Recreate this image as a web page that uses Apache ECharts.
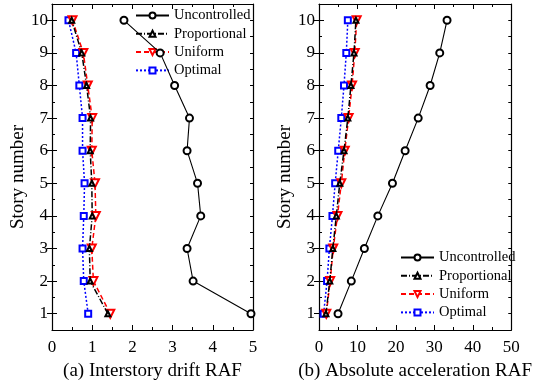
<!DOCTYPE html>
<html>
<head>
<meta charset="utf-8">
<script src="https://cdn.jsdelivr.net/npm/echarts@6/dist/echarts.min.js"></script>
<style>
  html, body { margin: 0; padding: 0; background: #fff; }
  #chart { width: 535px; height: 387px; }
</style>
</head>
<body>
<div id="chart"></div>
<script>
const stories = [1, 2, 3, 4, 5, 6, 7, 8, 9, 10]
const seriesNames = ['Uncontrolled', 'Proportional', 'Uniform', 'Optimal']

// (a) interstory drift RAF, story 1 -> 10
const driftUncontrolled = [4.95, 3.51, 3.36, 3.70, 3.62, 3.36, 3.42, 3.05, 2.69, 1.79]
const driftProportional = [1.39, 0.95, 0.93, 1.00, 0.99, 0.95, 0.96, 0.86, 0.74, 0.49]
const driftUniform = [1.45, 1.03, 0.99, 1.09, 1.07, 0.99, 1.00, 0.89, 0.78, 0.51]
const driftOptimal = [0.90, 0.79, 0.76, 0.79, 0.81, 0.76, 0.76, 0.68, 0.60, 0.41]

// (b) absolute acceleration RAF, story 1 -> 10
const accUncontrolled = [4.95, 8.4, 11.8, 15.3, 19.1, 22.4, 25.8, 28.9, 31.4, 33.3]
const accProportional = [1.8, 2.8, 3.6, 4.5, 5.4, 6.5, 7.5, 8.3, 9.1, 9.6]
const accUniform = [1.9, 2.9, 3.7, 4.8, 5.8, 6.7, 7.7, 8.6, 9.3, 9.8]
const accOptimal = [1.2, 2.1, 2.7, 3.5, 4.2, 5.0, 5.8, 6.5, 7.1, 7.5]

const font = 'Liberation Serif'
const styles = [
  { color: '#000', type: 'solid', symbol: 'emptyCircle', size: 7, rotate: 0, width: 1.1 },
  { color: '#000', type: [6, 2, 1, 2], symbol: 'emptyTriangle', size: 5, rotate: 0, width: 1.5 },
  { color: '#ff0000', type: [5, 3], symbol: 'emptyTriangle', size: 8, rotate: 180, width: 1.5 },
  { color: '#0000ff', type: [2, 2], symbol: 'emptyRect', size: 6, rotate: 0, width: 1.5 },
]

function pairs(vals) {
  return vals.map((v, i) => [v, stories[i]])
}

function makeSeries(list, xi, yi) {
  return list.map((vals, k) => ({
    name: seriesNames[k],
    type: 'line',
    xAxisIndex: xi,
    yAxisIndex: yi,
    data: pairs(vals),
    symbol: styles[k].symbol,
    symbolSize: styles[k].size,
    symbolRotate: styles[k].rotate,
    z: 10 - k,
    lineStyle: { color: styles[k].color, width: styles[k].width, type: styles[k].type },
    itemStyle: { color: styles[k].color, borderColor: styles[k].color, borderWidth: 1 },
  }))
}

function xAxes(grid, max, interval, name) {
  const base = {
    gridIndex: grid,
    type: 'value',
    min: 0,
    max: max,
    interval: interval,
    splitLine: { show: false },
    axisLine: { show: true, onZero: false, lineStyle: { color: '#000', width: 1.2 } },
    axisTick: { show: true, inside: true, length: 5, lineStyle: { color: '#000' } },
    minorTick: { show: true, splitNumber: 2, length: 3, lineStyle: { color: '#000' } },
  }
  return [
    Object.assign({}, base, {
      position: 'bottom',
      name: name,
      nameLocation: 'middle',
      nameGap: 32,
      nameTextStyle: { fontFamily: font, fontSize: 19, color: '#000' },
      axisLabel: { fontFamily: font, fontSize: 17, color: '#000', margin: 9 },
    }),
    Object.assign({}, base, { position: 'top', axisLabel: { show: false } }),
  ]
}

function yAxes(grid) {
  const base = {
    gridIndex: grid,
    type: 'value',
    min: 0.5,
    max: 10.5,
    interval: 0.5,
    splitLine: { show: false },
    axisLine: { show: true, onZero: false, lineStyle: { color: '#000', width: 1.2 } },
    axisTick: { show: true, inside: true, length: 3, lineStyle: { color: '#000' } },
    axisLabel: { show: false },
  }
  const major = {
    axisLine: { show: false },
    axisTick: { show: true, inside: true, length: 5, customValues: stories, lineStyle: { color: '#000' } },
  }
  return [
    Object.assign({}, base, {
      position: 'left',
      name: 'Story number',
      nameLocation: 'middle',
      nameGap: 23,
      // title sits a bit below the axis centre in the original
      nameTextStyle: { fontFamily: font, fontSize: 19, color: '#000', padding: [0, 20, 0, 0] },
      axisLabel: {
        fontFamily: font, fontSize: 17, color: '#000', margin: 4,
        formatter: v => (Number.isInteger(v) ? String(v) : ''),
      },
    }),
    Object.assign({}, base, { position: 'right' }),
    Object.assign({}, base, major, { position: 'left' }),
    Object.assign({}, base, major, { position: 'right' }),
  ]
}

const legendBase = {
  orient: 'vertical',
  align: 'left',
  padding: 0,
  itemWidth: 33,
  itemHeight: 7.5,
  itemGap: 3.3,
  textStyle: { fontFamily: font, fontSize: 14.5, lineHeight: 15, width: 90, overflow: 'none', color: '#000' },
  data: seriesNames,
}

const chart = echarts.init(document.getElementById('chart'), null, { renderer: 'canvas' })
chart.setOption({
  animation: false,
  backgroundColor: '#fff',
  grid: [
    { left: 52, right: 282, top: 4, bottom: 57 },
    { left: 319, right: 14, top: 4, bottom: 57 },
  ],
  legend: [
    Object.assign({}, legendBase, { left: 135, top: 8 }),
    Object.assign({}, legendBase, { left: 400, top: 250 }),
  ],
  xAxis: [].concat(xAxes(0, 5, 1, '(a) Interstory drift RAF'), xAxes(1, 50, 10, '(b) Absolute acceleration RAF')),
  yAxis: [].concat(yAxes(0), yAxes(1)),
  series: [].concat(
    makeSeries([driftUncontrolled, driftProportional, driftUniform, driftOptimal], 0, 0),
    makeSeries([accUncontrolled, accProportional, accUniform, accOptimal], 2, 4)
  ),
})
</script>
</body>
</html>
